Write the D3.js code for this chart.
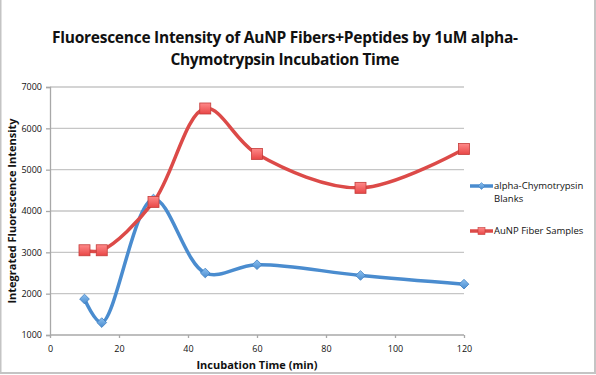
<!DOCTYPE html>
<html>
<head>
<meta charset="utf-8">
<script src="https://cdn.jsdelivr.net/npm/d3@7"></script>
<style>
  body { margin: 0; background: #fff; }
  svg { display: block; font-family: "Open Sans", "Noto Sans", sans-serif; }
</style>
</head>
<body>
<script>
// values
const TIMES = [10, 15, 30, 45, 60, 90, 120];
const BLANKS = [1870, 1300, 4290, 2500, 2700, 2440, 2230];
const SAMPLES = [3050, 3050, 4220, 6480, 5380, 4560, 5500];
const SERIES_NAMES = ["alpha-Chymotrypsin Blanks", "AuNP Fiber Samples"];
const X_TICKS = [0, 20, 40, 60, 80, 100, 120];
const Y_TICKS = [1000, 2000, 3000, 4000, 5000, 6000, 7000];

const W = 596, H = 375;
const M = {left: 50, right: 132, top: 87, bottom: 40};
const BLUE = "#4a8ccf", RED = "#dc4a48";

const SVG = d3.select("body").append("svg").attr("width", W).attr("height", H);

// chart area border
SVG.append("path")
  .attr("d", "M0.5,0 V373 H595 V0")
  .attr("fill", "none").attr("stroke", "#c4c4c4").attr("stroke-width", 2);

const x = d3.scaleLinear().domain([0, 120]).range([M.left, W - M.right]);
const y = d3.scaleLinear().domain([1000, 7000]).range([H - M.bottom, M.top]);

// title
const title = SVG.append("text").attr("text-anchor", "middle")
  .attr("font-weight", "bold").attr("font-size", 15.5).attr("fill", "#111");
title.append("tspan").attr("x", 285).attr("y", 43).attr("textLength", 466)
  .text("Fluorescence Intensity of AuNP Fibers+Peptides by 1uM alpha-");
title.append("tspan").attr("x", 285).attr("y", 65).attr("textLength", 229)
  .text("Chymotrypsin Incubation Time");

// gridlines
SVG.append("g").selectAll("line")
  .data(Y_TICKS.slice(1))
  .enter().append("line")
  .attr("x1", M.left).attr("x2", W - M.right)
  .attr("y1", d => y(d)).attr("y2", d => y(d))
  .attr("stroke", "#c6c6c6").attr("stroke-width", 1.3);

// axes
const yAxis = SVG.append("g").attr("transform", "translate(" + M.left + ",0)")
  .call(d3.axisLeft(y).tickValues(Y_TICKS).tickFormat(d3.format("d")).tickSize(4).tickPadding(4));
const xAxis = SVG.append("g").attr("transform", "translate(0," + (H - M.bottom) + ")")
  .call(d3.axisBottom(x).tickValues(X_TICKS).tickFormat(d3.format("d")).tickSize(4).tickPadding(7));
[yAxis, xAxis].forEach(a => {
  a.select(".domain").attr("stroke", "#a8a8a8").attr("stroke-width", 1.3);
  a.selectAll(".tick line").attr("stroke", "#a8a8a8").attr("stroke-width", 1.3);
  a.selectAll("text").attr("font-size", 9).attr("font-family", "Open Sans, sans-serif").attr("fill", "#111");
});
xAxis.select(".domain").attr("d", "M" + M.left + ",0H" + (W - M.right));
xAxis.selectAll(".tick line").attr("y1", 0).attr("y2", 3);

// axis titles
SVG.append("text").attr("x", 257).attr("y", 369).attr("text-anchor", "middle")
  .attr("font-weight", "bold").attr("font-size", 11).attr("fill", "#111")
  .text("Incubation Time (min)");
SVG.append("text").attr("transform", "translate(16,211) rotate(-90)")
  .attr("text-anchor", "middle").attr("font-weight", "bold").attr("font-size", 11)
  .attr("fill", "#111").text("Integrated Fluorescence Intensity");

// gradients for markers
const defs = SVG.append("defs");
const rg = defs.append("linearGradient").attr("id", "redfill").attr("x1", 0).attr("y1", 0).attr("x2", 0).attr("y2", 1);
rg.append("stop").attr("offset", "0%").attr("stop-color", "#ff8a8a");
rg.append("stop").attr("offset", "100%").attr("stop-color", "#e84646");
const bg = defs.append("linearGradient").attr("id", "bluefill").attr("x1", 0).attr("y1", 0).attr("x2", 0).attr("y2", 1);
bg.append("stop").attr("offset", "0%").attr("stop-color", "#8cc0f0");
bg.append("stop").attr("offset", "100%").attr("stop-color", "#4a8ccf");

const line = d3.line().x(d => x(d[0])).y(d => y(d[1])).curve(d3.curveCatmullRom.alpha(0.5));
const blanksPts = TIMES.map((t, i) => [t, BLANKS[i]]);
const samplesPts = TIMES.map((t, i) => [t, SAMPLES[i]]);

let drawBlue = (g, pts) => {
  g.append("path").datum(pts).attr("d", line).attr("fill", "none")
    .attr("stroke", BLUE).attr("stroke-width", 3.5);
  g.selectAll("path.m").data(pts).enter().append("path").attr("class", "m")
    .attr("d", d3.symbol(d3.symbolDiamond2, 60))
    .attr("transform", d => "translate(" + x(d[0]) + "," + y(d[1]) + ")")
    .attr("fill", "url(#bluefill)").attr("stroke", "#3f7fc0").attr("stroke-width", 0.8);
};
let drawRed = (g, pts) => {
  g.append("path").datum(pts).attr("d", line).attr("fill", "none")
    .attr("stroke", RED).attr("stroke-width", 3.5);
  g.selectAll("rect").data(pts).enter().append("rect")
    .attr("x", d => x(d[0]) - 5.5).attr("y", d => y(d[1]) - 5.5)
    .attr("width", 11).attr("height", 11)
    .attr("fill", "url(#redfill)").attr("stroke", "#c43c3a").attr("stroke-width", 0.8);
};

drawBlue(SVG.append("g"), blanksPts);
drawRed(SVG.append("g"), samplesPts);

// legend
const LEGEND = SVG.append("g").attr("transform", "translate(470,0)");
const lb = LEGEND.append("g").attr("transform", "translate(0,186)");
lb.append("line").attr("x1", 0).attr("x2", 23).attr("stroke", BLUE).attr("stroke-width", 3.5);
lb.append("path").attr("d", d3.symbol(d3.symbolDiamond2, 30)).attr("transform", "translate(11.5,0)")
  .attr("fill", "url(#bluefill)").attr("stroke", "#3f7fc0").attr("stroke-width", 0.6);
const lbt = lb.append("text").attr("font-size", 9.5).attr("fill", "#111");
lbt.append("tspan").attr("x", 24).attr("y", 3).text("alpha-Chymotrypsin");
lbt.append("tspan").attr("x", 24).attr("y", 16).text("Blanks");

const lr = LEGEND.append("g").attr("transform", "translate(0,231)");
lr.append("line").attr("x1", 0).attr("x2", 23).attr("stroke", RED).attr("stroke-width", 3.5);
lr.append("rect").attr("x", 8).attr("y", -3.5).attr("width", 7).attr("height", 7)
  .attr("fill", "url(#redfill)").attr("stroke", "#c43c3a").attr("stroke-width", 0.6);
lr.append("text").attr("x", 24).attr("y", 3).attr("font-size", 9.5).attr("fill", "#111")
  .text("AuNP Fiber Samples");
</script>
</body>
</html>
